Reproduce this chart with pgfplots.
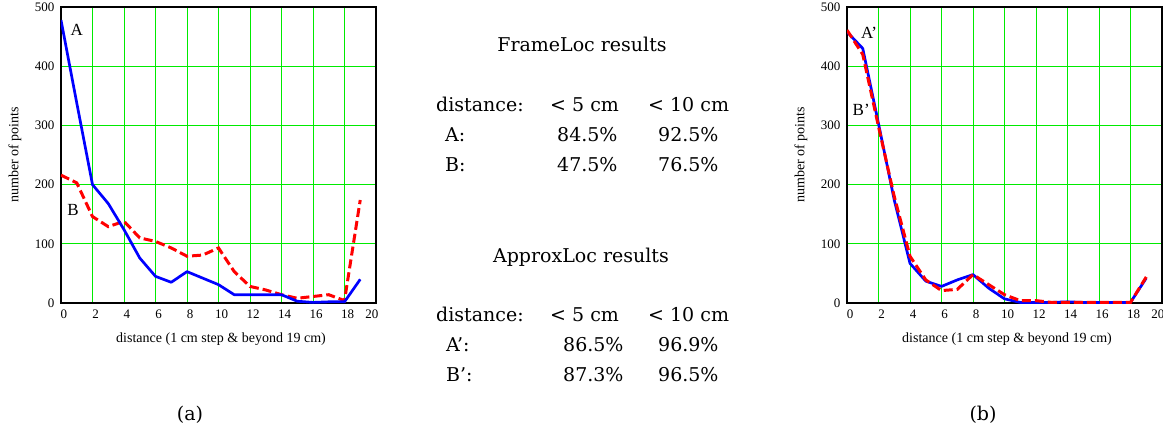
\documentclass[border=0pt]{standalone}
\usepackage{fontspec}
\setmainfont{Liberation Serif}
\newfontfamily\charfont{DejaVu Serif}
\usepackage{pgfplots}
\usepackage{pgfplotstable}
\pgfplotsset{compat=1.18}
\definecolor{gridgreen}{RGB}{0,235,0}
\definecolor{lineblue}{RGB}{0,0,255}
\definecolor{linered}{RGB}{255,0,0}

\pgfplotstableread{
x y
0 478
1 338
2 200
3 168
4 124
5 76
6 45
7 35
8 53
9 42
10 31
11 14
12 14
13 14
14 14
15 3
16 1
17 2
18 2
19 40
}\dataA
\pgfplotstableread{
x y
0 216
1 203
2 146
3 129
4 138
5 110
6 104
7 93
8 79
9 81
10 93
11 53
12 28
13 22
14 14
15 8
16 11
17 14
18 4
19 174
}\dataB
\pgfplotstableread{
x y
0 458
1 430
2 303
3 174
4 67
5 37
6 28
7 39
8 48
9 25
10 7
11 1
12 1
13 1
14 2
15 1
16 1
17 1
18 1
19 42
}\dataAp
\pgfplotstableread{
x y
0 461
1 420
2 298
3 180
4 79
5 39
6 21
7 23
8 48
9 31
10 14
11 4
12 4
13 1
14 1
15 1
16 1
17 1
18 1
19 44
}\dataBp

\tikzset{plab/.style={font=\fontsize{17}{18}\selectfont, inner sep=0pt}}
\pgfplotsset{
  panel/.style={
    scale only axis, width=315pt, height=296pt, anchor=south west,
    xmin=0, xmax=20, ymin=0, ymax=500,
    xtick={0,2,...,18}, ytick={0,100,...,500},
    extra x ticks={19.55}, extra x tick labels={20},
    extra x tick style={grid=none, major tick length=0pt},
    grid=major, major grid style={gridgreen, line width=0.9pt},
    axis line style={black, line width=1.1pt},
    major tick length=0pt,
    tick label style={font=\fontsize{13}{14}\selectfont},
    /pgf/number format/assume math mode=true,
    xticklabel style={xshift=3pt, yshift=-3pt},
    yticklabel style={xshift=-3pt},
    xlabel={distance (1 cm step \& beyond 19 cm)},
    ylabel={number of points},
    label style={font=\fontsize{14}{15}\selectfont},
    xlabel style={at={(axis description cs:0.508,-0.135)}, anchor=base},
    ylabel style={at={(axis description cs:-0.146,0.5)}, anchor=center},
  },
  lA/.style={lineblue, line width=2.7pt, line join=round},
  lB/.style={linered, line width=3pt, dash pattern=on 9pt off 4pt},
}

\begin{document}
\begin{tikzpicture}
\useasboundingbox (0,0) rectangle (1163pt,432pt);

\begin{axis}[panel, at={(61pt,129pt)}]
  \addplot[lB] table[x=x,y=y] {\dataB};
  \addplot[lA] table[x=x,y=y] {\dataA};
  \node[plab] at (axis cs:1.0,461) {A};
  \node[plab] at (axis cs:0.76,157) {B};
\end{axis}

\begin{axis}[panel, at={(847pt,129pt)}]
  \addplot[lA] table[x=x,y=y] {\dataAp};
  \addplot[lB] table[x=x,y=y] {\dataBp};
  \node[plab] at (axis cs:1.4,456) {A'};
  \node[plab] at (axis cs:0.9,326) {B'};
\end{axis}

\begin{scope}[every node/.style={font=\charfont\fontsize{19}{22}\selectfont, inner sep=0pt}]
  \node[anchor=base] at (582pt,380pt) {FrameLoc results};
  \node[anchor=base west] at (436pt,320pt) {distance:};
  \node[anchor=base west] at (550pt,320pt) {< 5 cm};
  \node[anchor=base west] at (648pt,320pt) {< 10 cm};
  \node[anchor=base west] at (445pt,290pt) {A:};
  \node[anchor=base west] at (557pt,290pt) {84.5\%};
  \node[anchor=base west] at (658pt,290pt) {92.5\%};
  \node[anchor=base west] at (445pt,260pt) {B:};
  \node[anchor=base west] at (557pt,260pt) {47.5\%};
  \node[anchor=base west] at (658pt,260pt) {76.5\%};

  \node[anchor=base] at (581pt,170pt) {ApproxLoc results};
  \node[anchor=base west] at (436pt,111pt) {distance:};
  \node[anchor=base west] at (550pt,111pt) {< 5 cm};
  \node[anchor=base west] at (648pt,111pt) {< 10 cm};
  \node[anchor=base west] at (446pt,81pt) {A’:};
  \node[anchor=base west] at (563pt,81pt) {86.5\%};
  \node[anchor=base west] at (658pt,81pt) {96.9\%};
  \node[anchor=base west] at (446pt,51pt) {B’:};
  \node[anchor=base west] at (563pt,51pt) {87.3\%};
  \node[anchor=base west] at (658pt,51pt) {96.5\%};

  \node[anchor=base] at (190pt,12pt) {(a)};
  \node[anchor=base] at (983pt,12pt) {(b)};
\end{scope}
\end{tikzpicture}
\end{document}
